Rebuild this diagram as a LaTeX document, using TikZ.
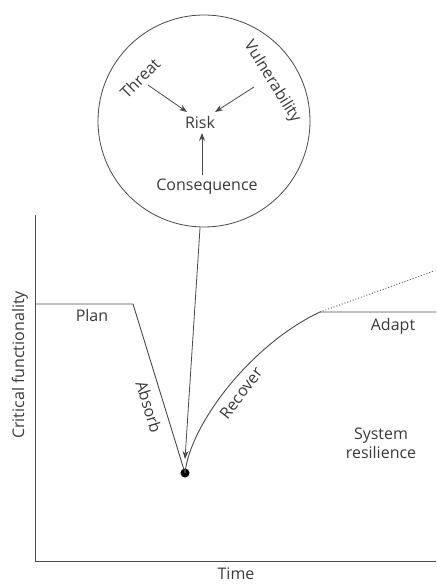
\documentclass[tikz,border=0pt]{standalone}
\usepackage{fontspec}
\setmainfont{Open Sans}
\usetikzlibrary{arrows.meta}
\definecolor{ln}{HTML}{4A4A4A}
\definecolor{tx}{HTML}{3A3A3A}
\begin{document}
\begin{tikzpicture}[x=1pt,y=-1pt,
  lbl/.style={text=tx,font=\fontsize{16}{18}\selectfont,inner sep=0pt},
  curve/.style={draw=ln,line width=0.9pt},
  arr/.style={draw=ln,line width=0.8pt,-{Stealth[length=8pt,width=6pt]}}]
\useasboundingbox (0,0) rectangle (436,585);
% circle
\node[draw=ln,line width=0.8pt,circle,minimum size=212pt,inner sep=0pt] (circ) at (204,121) {};
\node[lbl] (risk) at (200,123) {Risk};
\node[lbl,rotate=45] (threat) at (140,78) {Threat};
\node[lbl,rotate=-58] (vuln) at (272,82) {Vulnerability};
\node[lbl] (cons) at (207,187) {Consequence};
\coordinate (tA) at (148,85);
\coordinate (tB) at (187,112);
\coordinate (vA) at (254,87);
\coordinate (vB) at (215,112);
\coordinate (cA) at (202,175);
\coordinate (cB) at (202,133);
\draw[arr] (tA) -- (tB);
\draw[arr] (vA) -- (vB);
\draw[arr] (cA) -- (cB);
% axes
\coordinate (ytop) at (35,215);
\coordinate (orig) at (35,561);
\coordinate (xend) at (436,561);
\draw[curve] (ytop) -- (orig) -- (xend);
% curve
\coordinate (p0) at (35,304);
\coordinate (p1) at (133,304);
\node[circle,fill=black,minimum size=9pt,inner sep=0pt] (dot) at (185,473) {};
\coordinate (p3) at (320,312);
\coordinate (p4) at (436,312);
\coordinate (p5) at (434,271);
\draw[curve] (p0) -- (p1) -- (dot.center);
\draw[curve] (dot.center) .. controls (190,425) and (250,345) .. (p3) -- (p4);
\draw[draw=ln,line width=0.9pt,dotted] (p3) -- (p5);
% pointer from circle
\coordinate (cbot) at (200,228);
\coordinate (ptip) at (185,459);
\draw[arr] (cbot) -- (ptip);
% labels
\node[lbl] (plan) at (92,315) {Plan};
\node[lbl,rotate=-73] (absorb) at (149,407) {Absorb};
\node[lbl,rotate=53] (recover) at (241,393) {Recover};
\node[lbl] (adapt) at (393,326) {Adapt};
\node[lbl,align=center] (sys) at (381,443) {System\\[1pt]resilience};
\node[lbl,rotate=90] (ylab) at (20,365) {Critical functionality};
\node[lbl] (xlab) at (236,574) {Time};
\end{tikzpicture}
\end{document}
